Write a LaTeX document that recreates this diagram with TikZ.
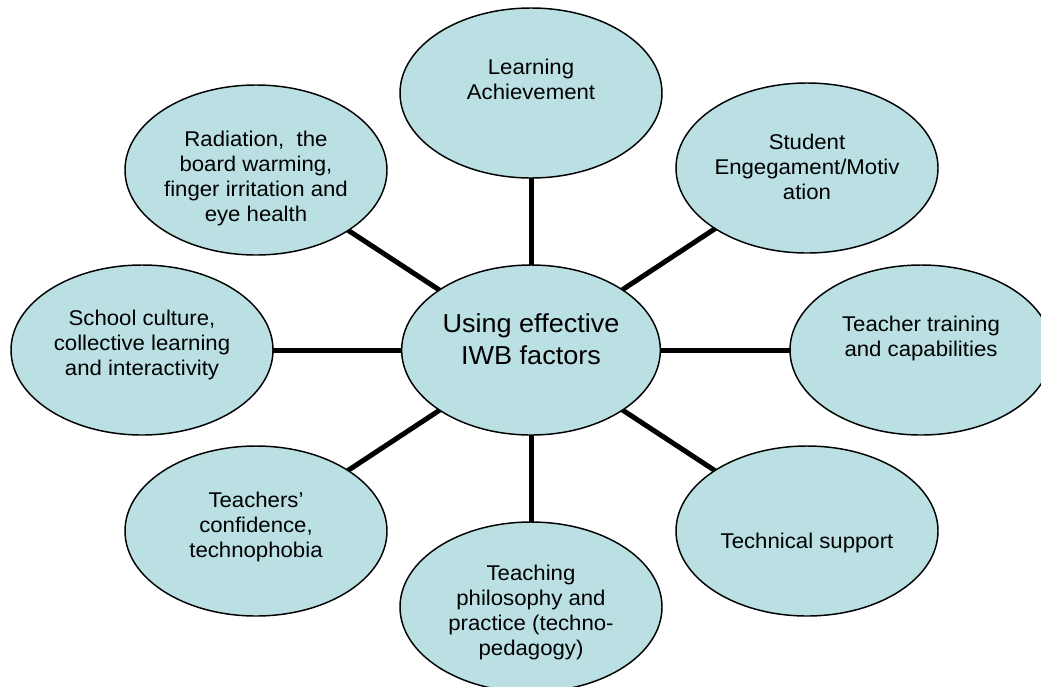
\documentclass[tikz,border=0pt]{standalone}
\usepackage{fontspec}
\setmainfont{Liberation Sans}[FakeStretch=1.04]
\usetikzlibrary{shapes.geometric}
\definecolor{bubblefill}{RGB}{186,224,227}
\tikzset{
  bubble/.style={ellipse, draw=black, line width=1.1pt, fill=bubblefill,
    minimum width=196.5pt, minimum height=127.5pt, inner sep=0pt},
  txt/.style={align=center, inner sep=0pt,
    font=\fontsize{16pt}{18.75pt}\selectfont},
  hubtxt/.style={align=center, inner sep=0pt,
    font=\fontsize{19.5pt}{24pt}\selectfont},
  conn/.style={line width=3.75pt, draw=black}
}
\begin{document}
\begin{tikzpicture}[x=0.75pt, y=-0.75pt]
\useasboundingbox (0,0) rectangle (1041,686);

% connectors first, so the bubbles sit on top of them
\coordinate (c0) at (531,350);
\coordinate (c1) at (531,93);
\coordinate (c2) at (807,168);
\coordinate (c3) at (921,350);
\coordinate (c4) at (807,531);
\coordinate (c5) at (531,607);
\coordinate (c6) at (256,531);
\coordinate (c7) at (142,350);
\coordinate (c8) at (256,170);

\foreach \k in {1,...,8}
  \draw[conn] (c0) -- (c\k);

% bubbles
\node[bubble, minimum width=194pt] (hub) at (c0) {};
\node[bubble] (learn) at (c1) {};
\node[bubble] (engage) at (c2) {};
\node[bubble] (training) at (c3) {};
\node[bubble] (support) at (c4) {};
\node[bubble] (philo) at (c5) {};
\node[bubble] (confid) at (c6) {};
\node[bubble] (culture) at (c7) {};
\node[bubble] (health) at (c8) {};

% texts
\node[hubtxt] (thub) at ([yshift=8pt]hub.center) {Using effective\\IWB factors};
\node[txt] (tlearn) at ([yshift=10pt]learn.center) {Learning\\Achievement};
\node[txt] (tengage) at ([yshift=1pt]engage.center) {Student\\Engegament/Motiv\\ation};
\node[txt] (ttraining) at ([yshift=9pt]training.center) {Teacher training\\and capabilities};
\node[txt] (tsupport) at ([yshift=-9pt]support.center) {Technical support};
\node[txt] (tphilo) at ([yshift=-4pt]philo.center) {Teaching\\philosophy and\\practice (techno-\\pedagogy)};
\node[txt] (tconfid) at ([yshift=3pt]confid.center) {Teachers’\\confidence,\\technophobia};
\node[txt] (tculture) at ([yshift=4pt]culture.center) {School culture,\\collective learning\\and interactivity};
\node[txt] (thealth) at ([yshift=-6pt]health.center) {Radiation,\ \ the\\board warming,\\finger irritation and\\eye health};
\end{tikzpicture}
\end{document}
